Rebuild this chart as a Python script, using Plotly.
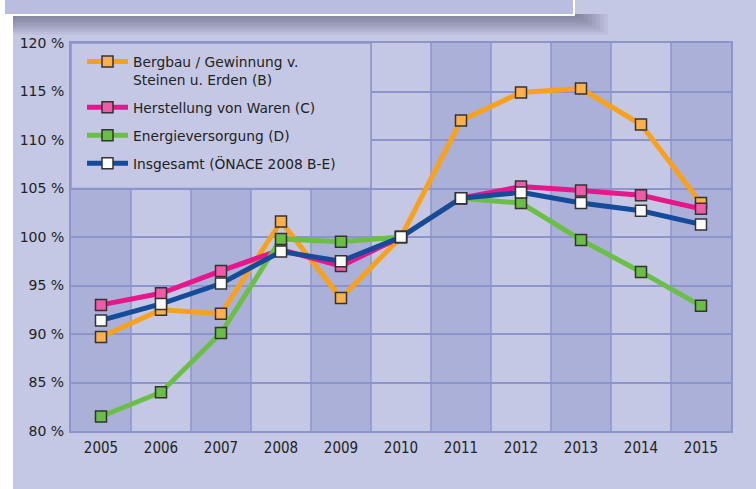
import plotly.graph_objects as go

years = [2005, 2006, 2007, 2008, 2009, 2010, 2011, 2012, 2013, 2014, 2015]
bergbau = [89.7, 92.5, 92.1, 101.6, 93.7, 100.0, 112.0, 114.9, 115.3, 111.6, 103.5]
herstellung = [93.0, 94.2, 96.5, 98.7, 97.0, 100.0, 104.0, 105.2, 104.8, 104.3, 102.9]
energie = [81.5, 84.0, 90.1, 99.8, 99.5, 100.0, 104.0, 103.5, 99.7, 96.4, 92.9]
insgesamt = [91.4, 93.1, 95.2, 98.5, 97.5, 100.0, 104.0, 104.6, 103.5, 102.7, 101.3]

names = ["Bergbau / Gewinnung v.<br>Steinen u. Erden (B)",
         "Herstellung von Waren (C)",
         "Energieversorgung (D)",
         "Insgesamt (ÖNACE 2008 B-E)"]
series = [bergbau, herstellung, energie, insgesamt]
line_colors = ["#f7a11c", "#e8168b", "#6cbf46", "#144b9b"]
marker_colors = ["#fbb04c", "#ef5ba7", "#6abd45", "#ffffff"]
y_ticks = [80, 85, 90, 95, 100, 105, 110, 115, 120]

PANEL = "#c5c8e4"
DARK = "#abb0d8"
GRID = "#8d94cc"

W, H = 756, 489
L, R, T, B = 71, 25, 43, 58
pw, ph = W - L - R, H - T - B

def px_x(p):
    return (p - L) / pw

def px_y(p):
    return (H - B - p) / ph

fig = go.Figure()
for i, (nm, ys) in enumerate(zip(names, series)):
    fig.add_trace(go.Scatter(
        x=years, y=ys, name=nm, mode="lines+markers",
        legendgroup=f"g{i}",
        line=dict(color=line_colors[i], width=5),
        marker=dict(symbol="square", size=11, color=marker_colors[i],
                    line=dict(color="#333333", width=1.5)),
    ))

shapes = []
# alternating column bands
for i, yr in enumerate(years):
    if i % 2 == 0:
        shapes.append(dict(type="rect", xref="x", yref="paper",
                           x0=yr - 0.5, x1=yr + 0.5, y0=0, y1=1,
                           fillcolor=DARK, line=dict(width=0), layer="below"))
# legend cover box
shapes.append(dict(type="rect", xref="x", yref="y", x0=2004.5, x1=2009.5,
                   y0=105, y1=120, fillcolor=PANEL,
                   line=dict(color=GRID, width=1.5), layer="above"))
# white left strip
shapes.append(dict(type="rect", xref="paper", yref="paper",
                   x0=px_x(-2), x1=px_x(13), y0=px_y(H + 2), y1=px_y(-2),
                   fillcolor="#ffffff", line=dict(width=0), layer="below"))
# shadow of top box
for k in range(9):
    shapes.append(dict(type="rect", xref="paper", yref="paper",
                       x0=px_x(13), x1=px_x(576 + k * 4),
                       y0=px_y(16 + k * 2.3), y1=px_y(14),
                       fillcolor="rgba(70,72,100,0.075)", line=dict(width=0),
                       layer="below"))
# top box (cut-off)
shapes.append(dict(type="rect", xref="paper", yref="paper",
                   x0=px_x(4), x1=px_x(574), y0=px_y(15), y1=px_y(-10),
                   fillcolor="#b9bddf", line=dict(color="#ffffff", width=2),
                   layer="below"))

fig.update_layout(
    width=W, height=H,
    margin=dict(l=L, r=R, t=T, b=B, pad=0, autoexpand=False),
    paper_bgcolor=PANEL, plot_bgcolor=PANEL,
    shapes=shapes,
    showlegend=True,
    legend=dict(x=px_x(82), y=px_y(46), xanchor="left", yanchor="top",
                bgcolor="rgba(0,0,0,0)", borderwidth=0,
                font=dict(family="DejaVu Sans", size=13.8, color="#222222"),
                traceorder="grouped", tracegroupgap=7, valign="top",
                itemwidth=41),
    xaxis=dict(range=[2004.5, 2015.5], tickvals=years,
               ticktext=[str(y) for y in years],
               showgrid=False, zeroline=False,
               showline=True, linecolor=GRID, linewidth=2, mirror=True,
               tickfont=dict(family="DejaVu Sans Condensed", size=15, color="#222222"),
               ticks="", ticklabelstandoff=2),
    yaxis=dict(range=[80, 120], tickvals=y_ticks,
               ticktext=[f"{v} %" for v in y_ticks],
               showgrid=True, gridcolor=GRID, gridwidth=1.5, zeroline=False,
               showline=True, linecolor=GRID, linewidth=2, mirror=True,
               tickfont=dict(family="DejaVu Sans", size=14, color="#222222"),
               ticks="", ticklabelstandoff=2),
)
# vertical grid lines at column boundaries
for yr in years[:-1]:
    fig.add_shape(type="line", xref="x", yref="paper", x0=yr + 0.5, x1=yr + 0.5,
                  y0=0, y1=1, line=dict(color=GRID, width=1.5), layer="below")

fig.write_html("out.html", config={"displayModeBar": False},
               post_script="document.body.style.margin='0';document.body.style.overflow='hidden';")
